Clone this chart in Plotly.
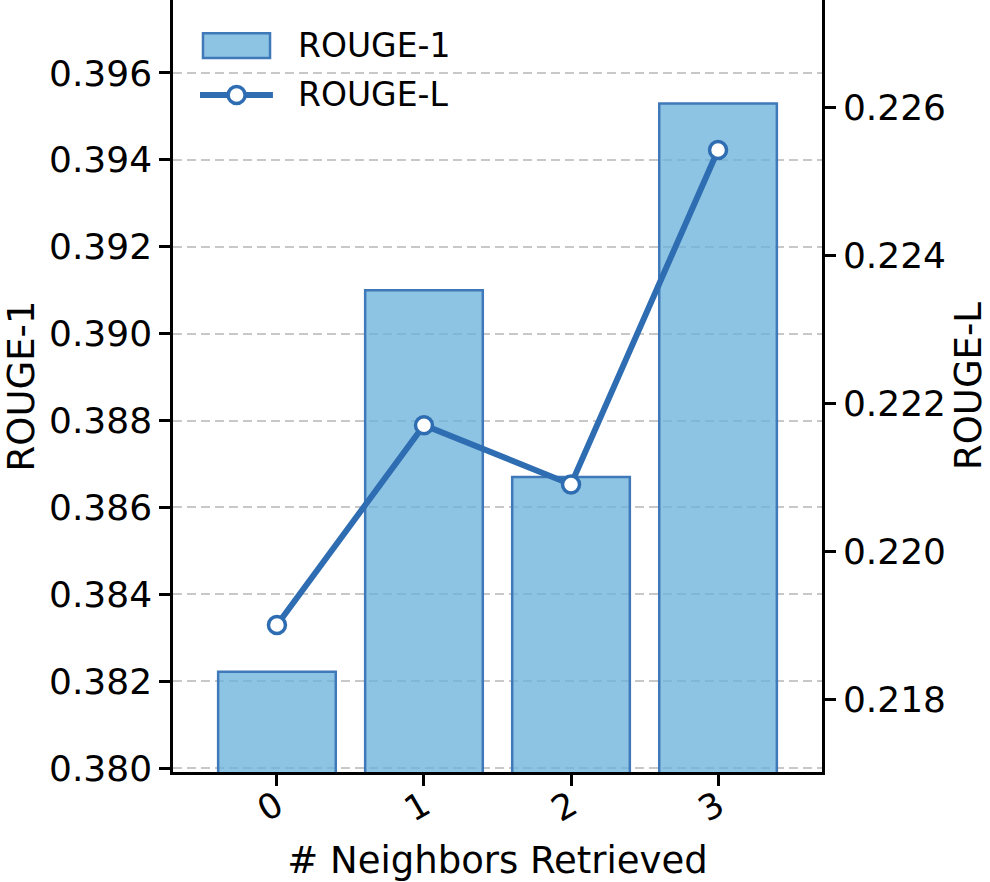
import plotly.graph_objects as go

categories = ["0", "1", "2", "3"]
rouge1 = [0.38222, 0.39100, 0.38670, 0.39530]
rougeL = [0.21900, 0.22170, 0.22090, 0.22542]
left_ticks = [0.380, 0.382, 0.384, 0.386, 0.388, 0.390, 0.392, 0.394, 0.396]
right_ticks = [0.218, 0.220, 0.222, 0.224, 0.226]
series_names = ["ROUGE-1", "ROUGE-L"]

xs = [0, 1, 2, 3]
FONT = "DejaVu Sans"
LINE = "#2f6db2"
BAR_FILL = "rgba(107,177,218,0.76)"
BAR_EDGE = "#4079b9"

fig = go.Figure()
fig.add_trace(go.Bar(
    x=xs, y=rouge1, name=series_names[0], width=0.8,
    marker=dict(color=BAR_FILL, line=dict(color=BAR_EDGE, width=2.5)),
    yaxis="y", showlegend=False,
))
fig.add_trace(go.Scatter(
    x=xs, y=rougeL, name=series_names[1], mode="lines+markers",
    line=dict(color=LINE, width=6),
    marker=dict(symbol="circle", size=17, color="white", line=dict(color=LINE, width=3.5)),
    yaxis="y2", showlegend=False,
))

# manual matplotlib-style legend (paper coordinates)
fig.add_shape(type="rect", xref="paper", yref="paper", x0=0.0462, x1=0.1495, y0=0.925, y1=0.957,
              fillcolor=BAR_FILL, line=dict(color=BAR_EDGE, width=2.5))
fig.add_shape(type="line", xref="paper", yref="paper", x0=0.0416, x1=0.154, y0=0.877, y1=0.877,
              line=dict(color=LINE, width=6))
fig.add_shape(type="circle", xref="paper", yref="paper", xsizemode="pixel", ysizemode="pixel",
              xanchor=0.098, yanchor=0.877, x0=-8.5, x1=8.5, y0=-8.5, y1=8.5,
              fillcolor="white", line=dict(color=LINE, width=3.5))
for name, yy in zip(series_names, [0.941, 0.877]):
    fig.add_annotation(xref="paper", yref="paper", x=0.19, y=yy, xanchor="left", yanchor="middle",
                       text=name, showarrow=False, font=dict(size=33, family=FONT, color="black"))

fig.update_layout(
    width=990, height=882,
    margin=dict(l=173, r=168, t=0, b=110, autoexpand=False),
    plot_bgcolor="white", paper_bgcolor="white",
    font=dict(family=FONT, size=36, color="black"),
    showlegend=False,
    xaxis=dict(
        range=[-0.707, 3.707], tickmode="array", tickvals=xs, ticktext=categories,
        tickangle=-30, ticks="outside", ticklen=11, tickwidth=2.5, tickcolor="black",
        ticklabelstandoff=-14, automargin=False,
        showline=True, linecolor="black", linewidth=2.5, showgrid=False, zeroline=False,
        title=dict(text="# Neighbors Retrieved", font=dict(size=37, family=FONT), standoff=20),
        tickfont=dict(size=35, family=FONT),
    ),
    yaxis=dict(
        range=[0.37991, 0.39768], tickmode="array", tickvals=left_ticks,
        ticktext=[f"{v:.3f}" for v in left_ticks], automargin=False,
        ticks="outside", ticklen=11, tickwidth=2.5, tickcolor="black",
        showline=True, linecolor="black", linewidth=2.5,
        showgrid=True, gridcolor="#c8c8c8", gridwidth=2.2, griddash="9px,5px", zeroline=False,
        title=dict(text="ROUGE-1", font=dict(size=37, family=FONT), standoff=26),
        tickfont=dict(size=36, family=FONT),
    ),
    yaxis2=dict(
        range=[0.217014, 0.227446], overlaying="y", side="right", tickmode="array",
        tickvals=right_ticks, ticktext=[f"{v:.3f}" for v in right_ticks], automargin=False,
        ticks="outside", ticklen=11, tickwidth=2.5, tickcolor="black",
        showline=True, linecolor="black", linewidth=2.5, showgrid=False, zeroline=False,
        title=dict(text="ROUGE-L", font=dict(size=37, family=FONT), standoff=32),
        tickfont=dict(size=36, family=FONT),
    ),
)

fig.write_html("out.html")
